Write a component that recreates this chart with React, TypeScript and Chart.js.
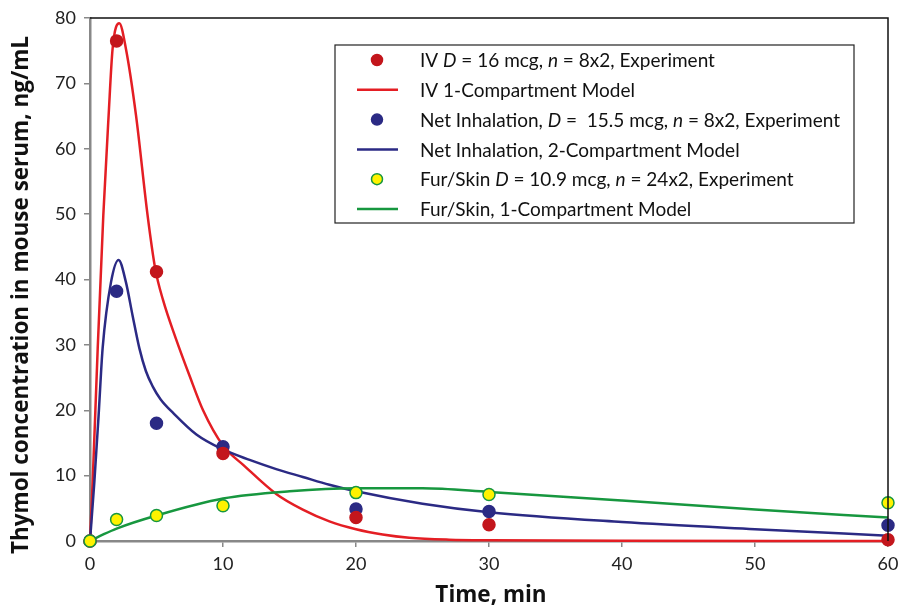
import React, { useEffect, useRef } from "react";
import { Chart, registerables } from "chart.js";

Chart.register(...registerables);

// Experimental sampling times (min)
const times = [0, 2, 5, 10, 20, 30, 60];
const ivExp = [0, 76.5, 41.2, 13.4, 3.6, 2.5, 0.2];
const inhExp = [0, 38.2, 18.0, 14.4, 4.9, 4.5, 2.4];
const furExp = [0, 3.3, 3.9, 5.4, 7.4, 7.1, 5.85];

// Model curves
const ivModelT = [0, 0.2, 0.58, 1.0, 1.4, 1.7, 2.2, 2.7, 3.46, 4.33, 4.9, 5.5, 6.45, 7.5, 8.5, 10, 11.6, 14, 16, 18, 20, 22, 24, 27, 30, 40, 60];
const ivModelC = [0, 9, 29.5, 49.8, 65.1, 75.3, 79.2, 75.3, 65.1, 49.8, 41.7, 36.8, 31.0, 25.2, 20.0, 14.6, 11.5, 7.2, 4.8, 3.0, 1.8, 1.0, 0.5, 0.2, 0.1, 0.02, 0];
const inhModelT = [0, 0.33, 0.65, 0.95, 1.58, 2.15, 2.7, 3.2, 3.71, 4.2, 4.7, 5.3, 6.3, 8, 10, 12, 14, 16, 18, 20, 25, 30, 40, 50, 60];
const inhModelC = [0, 9.1, 19.3, 29.5, 39.6, 43.0, 39.6, 34.5, 29.5, 26.0, 23.7, 21.7, 19.5, 16.3, 14.0, 12.4, 11.0, 9.8, 8.6, 7.6, 5.7, 4.4, 2.9, 1.8, 0.8];
const furModelT = [0, 1, 2, 5, 10, 15, 20, 25, 30, 40, 50, 60];
const furModelC = [0, 1.0, 1.9, 3.9, 6.5, 7.6, 8.05, 8.05, 7.5, 6.2, 4.8, 3.6];

// Axis ticks
const xTicks = [0, 10, 20, 30, 40, 50, 60];
const yTicks = [0, 10, 20, 30, 40, 50, 60, 70, 80];

// Labels (*...* = italic)
const ivExpLabel = "IV *D* = 16 mcg, *n* = 8x2, Experiment";
const ivModelLabel = "IV 1-Compartment Model";
const inhExpLabel = "Net Inhalation, *D* =  15.5 mcg, *n* = 8x2, Experiment";
const inhModelLabel = "Net Inhalation, 2-Compartment Model";
const furExpLabel = "Fur/Skin *D* = 10.9 mcg, *n* = 24x2, Experiment";
const furModelLabel = "Fur/Skin, 1-Compartment Model";
const xTitle = "Time, min";
const yTitle = "Thymol concentration in mouse serum, ng/mL";

const FONT = "Lato, 'Open Sans', sans-serif";
const TITLE_FONT = "'Open Sans', Lato, sans-serif";
const RED_PT = "#C3161C";
const RED_LN = "#E41E24";
const BLUE = "#2B2A84";
const GREEN = "#17973F";
const YELLOW = "#FFF200";

const zip = (xs: number[], ys: number[]) => xs.map((x, i) => ({ x, y: ys[i] }));

const legendItems = [
  { label: ivExpLabel, kind: "point", fill: RED_PT, stroke: RED_PT },
  { label: ivModelLabel, kind: "line", stroke: RED_LN },
  { label: inhExpLabel, kind: "point", fill: BLUE, stroke: BLUE },
  { label: inhModelLabel, kind: "line", stroke: BLUE },
  { label: furExpLabel, kind: "point", fill: YELLOW, stroke: GREEN },
  { label: furModelLabel, kind: "line", stroke: GREEN },
];

const drawRich = (ctx: CanvasRenderingContext2D, text: string, x: number, y: number, size: number) => {
  const parts = text.split("*");
  let cx = x;
  parts.forEach((p, i) => {
    ctx.font = `${i % 2 === 1 ? "italic " : ""}${size}px ${FONT}`;
    ctx.fillText(p, cx, y);
    cx += ctx.measureText(p).width;
  });
};

const decorPlugin = {
  id: "decor",
  afterDraw(chart: any) {
    const ctx = chart.ctx as CanvasRenderingContext2D;
    const a = chart.chartArea;
    ctx.save();
    // top and right frame
    ctx.strokeStyle = "#111";
    ctx.lineWidth = 1.5;
    ctx.beginPath();
    ctx.moveTo(a.left, a.top);
    ctx.lineTo(a.right, a.top);
    ctx.lineTo(a.right, a.bottom);
    ctx.stroke();

    // legend
    const bx = 335, by = 45, bw = 519, bh = 178;
    ctx.fillStyle = "#fff";
    ctx.fillRect(bx, by, bw, bh);
    ctx.strokeStyle = "#222";
    ctx.lineWidth = 1.2;
    ctx.strokeRect(bx, by, bw, bh);
    const rowY0 = 60, rowH = 29.8;
    legendItems.forEach((it, i) => {
      const y = rowY0 + i * rowH;
      if (it.kind === "point") {
        ctx.beginPath();
        ctx.arc(377, y, 5.5, 0, Math.PI * 2);
        ctx.fillStyle = it.fill as string;
        ctx.fill();
        ctx.lineWidth = 1.5;
        ctx.strokeStyle = it.stroke;
        ctx.stroke();
      } else {
        ctx.beginPath();
        ctx.moveTo(357, y);
        ctx.lineTo(398, y);
        ctx.lineWidth = 2.5;
        ctx.strokeStyle = it.stroke;
        ctx.stroke();
      }
      ctx.fillStyle = "#111";
      ctx.textBaseline = "middle";
      ctx.textAlign = "left";
      drawRich(ctx, it.label, 420, y + 1, 19);
    });

    // axis titles
    ctx.fillStyle = "#111";
    ctx.textAlign = "center";
    ctx.textBaseline = "middle";
    ctx.font = `bold 22.5px ${TITLE_FONT}`;
    ctx.fillText(xTitle, (a.left + a.right) / 2 + 2, 596);
    ctx.save();
    ctx.translate(22, 295);
    ctx.rotate(-Math.PI / 2);
    ctx.font = `bold 22.5px ${TITLE_FONT}`;
    ctx.fillText(yTitle, 0, 0);
    ctx.restore();
    ctx.restore();
  },
};

export default function App() {
  const ref = useRef<HTMLCanvasElement>(null);
  useEffect(() => {
    if (!ref.current) return;
    const lineDs = (data: any, color: string, order: number) => ({
      type: "line" as const,
      data,
      borderColor: color,
      backgroundColor: color,
      borderWidth: 2.5,
      pointRadius: 0,
      cubicInterpolationMode: "monotone" as const,
      fill: false,
      clip: false,
      order,
    });
    const ptDs = (data: any, fill: string, stroke: string, order: number) => ({
      type: "scatter" as const,
      data,
      backgroundColor: fill,
      borderColor: stroke,
      borderWidth: 1.5,
      pointRadius: 6,
      showLine: false,
      clip: false,
      order,
    });
    const chart = new Chart(ref.current, {
      type: "scatter",
      data: {
        datasets: [
          ptDs(zip(times, ivExp), RED_PT, RED_PT, 1),
          lineDs(zip(ivModelT, ivModelC), RED_LN, 5),
          ptDs(zip(times, inhExp), BLUE, BLUE, 2),
          lineDs(zip(inhModelT, inhModelC), BLUE, 4),
          ptDs(zip(times, furExp), YELLOW, GREEN, 0),
          lineDs(zip(furModelT, furModelC), GREEN, 3),
        ] as any,
      },
      options: {
        animation: false,
        responsive: false,
        layout: { padding: { top: 18, right: 10, left: 0, bottom: 0 } },
        plugins: { legend: { display: false }, tooltip: { enabled: false } },
        scales: {
          x: {
            type: "linear",
            min: 0,
            max: 60,
            afterFit: (s: any) => { s.height = 69; s.paddingLeft = 0; s.paddingRight = 0; },
            afterBuildTicks: (s: any) => { s.ticks = xTicks.map((v) => ({ value: v })); },
            ticks: { font: { family: FONT, size: 18 }, color: "#222", padding: 6 },
            grid: { drawOnChartArea: false, tickLength: 6, color: "#888", lineWidth: 1.5 },
            border: { color: "#888", width: 2.5 },
          },
          y: {
            type: "linear",
            min: 0,
            max: 80,
            afterFit: (s: any) => { s.width = 90; s.paddingTop = 0; s.paddingBottom = 0; },
            afterBuildTicks: (s: any) => { s.ticks = yTicks.map((v) => ({ value: v })); },
            ticks: { font: { family: FONT, size: 18 }, color: "#222", padding: 8 },
            grid: { drawOnChartArea: false, tickLength: 6, color: "#888", lineWidth: 1.5 },
            border: { color: "#888", width: 2.5 },
          },
        },
      },
      plugins: [decorPlugin],
    });
    return () => chart.destroy();
  }, []);
  return (
    <div style={{ position: "fixed", left: 0, top: 0, width: 898, height: 610, background: "#fff" }}>
      <canvas ref={ref} width={898} height={610} />
    </div>
  );
}
